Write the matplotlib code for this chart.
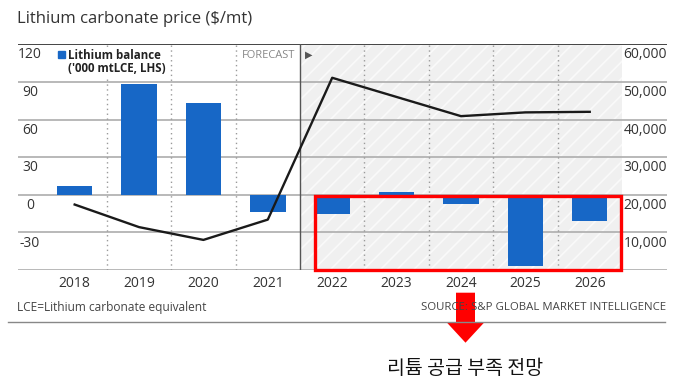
import matplotlib
matplotlib.use("Agg")
import matplotlib.pyplot as plt
import matplotlib.transforms as mtransforms
from matplotlib.patches import Rectangle, FancyArrow
from matplotlib.lines import Line2D

years = ["2018", "2019", "2020", "2021", "2022", "2023", "2024", "2025", "2026"]
balance = [7, 88, 73, -14, -15, 2.5, -7, -57, -21]          # '000 mtLCE, LHS
price = [17400, 11400, 8000, 13400, 51100, 46000, 40900, 41900, 42050]  # $/mt, RHS
left_ticks = [120, 90, 60, 30, 0, -30]
right_ticks = [60000, 50000, 40000, 30000, 20000, 10000]
forecast_start = 4  # index of 2022

plt.rcParams['font.family'] = ['Open Sans', 'DejaVu Sans']
plt.rcParams['hatch.linewidth'] = 1.2

BLUE = "#1767c6"
GRID = "#b3b3b3"

fig = plt.figure(figsize=(6.84, 3.88), dpi=100)
ax = fig.add_axes([18 / 684, 118 / 388, 649 / 684, 225.7 / 388])
x = list(range(len(years)))

ax.set_xlim(-0.88, len(years) - 1 + 1.2)
ax.set_ylim(-60, 120)
for s in ax.spines.values():
    s.set_visible(False)

# forecast shading
ax.axvspan(forecast_start - 0.5, len(years) - 0.5, facecolor="#f0f0f0",
           edgecolor="#fafafa", hatch="//", lw=0, zorder=0)

# horizontal grid
for v in left_ticks[1:] + [-60]:
    ax.axhline(v, color=GRID, lw=1.3, zorder=1)
ax.axhline(120, color="#444444", lw=1.4, zorder=1)

# vertical separators
for i in x[:-1]:
    if i + 1 == forecast_start:
        ax.axvline(i + 0.5, color="#555555", lw=1.0, zorder=1)
    else:
        ax.axvline(i + 0.5, color="#9a9a9a", lw=1.0, ls=(0, (1, 2.5)), zorder=1)

ax.bar(x, balance, width=0.55, color=BLUE, zorder=3)

ax.set_xticks(x, years)
ax.tick_params(axis="x", length=0, pad=4.5, labelsize=10, labelcolor="#333333")
ax.set_yticks([])

off = mtransforms.offset_copy(ax.get_yaxis_transform(), fig=fig, x=0, y=-10.7, units="dots")
for v in left_ticks:
    ax.text(0.0185, v, str(v), transform=off, ha="center", va="center",
            fontsize=10, color="#333333", zorder=5)

# legend + forecast label
ax.add_patch(Rectangle((0.0616, 0.938), 0.011, 0.031, transform=ax.transAxes,
                       color=BLUE, zorder=7, clip_on=False))
ax.text(0.077, 0.978, "Lithium balance\n('000 mtLCE, LHS)", transform=ax.transAxes,
        ha="left", va="top", fontsize=8.3, fontweight="bold", color="#222222",
        linespacing=1.0, zorder=6,
        bbox=dict(facecolor="white", edgecolor="none", pad=1))
ax.text(forecast_start - 0.58, 120, "FORECAST",
        transform=mtransforms.offset_copy(ax.transData, fig=fig, y=-10.7, units="dots"),
        ha="right", va="center", fontsize=8, color="#888888", zorder=6)
ax.text(forecast_start - 0.42, 120, "\u25B6",
        transform=mtransforms.offset_copy(ax.transData, fig=fig, y=-10.7, units="dots"),
        ha="left", va="center", fontsize=7, color="#555555", zorder=6,
        family=["DejaVu Sans"])

# red highlight box
ax.add_patch(Rectangle((forecast_start - 0.27, -60), 4.75, 58.9, fill=False,
                       edgecolor="red", lw=2.4, zorder=10, clip_on=False))

# price line on right axis
ax2 = ax.twinx()
ax2.set_ylim(0, 60000)
for s in ax2.spines.values():
    s.set_visible(False)
ax2.set_yticks([])
ax2.plot(x, price, color="#1a1a1a", lw=1.7, zorder=4)
off2 = mtransforms.offset_copy(ax2.get_yaxis_transform(), fig=fig, x=0, y=-10.7, units="dots")
for v in right_ticks:
    ax2.text(1.0, v, f"{v:,}", transform=off2, ha="right", va="center",
             fontsize=10, color="#333333")

fig.text(17 / 684, 1 - 19 / 388, "Lithium carbonate price ($/mt)", ha="left",
         va="center", fontsize=12, color="#333333")
fig.text(17 / 684, 1 - 308 / 388, "LCE=Lithium carbonate equivalent", ha="left",
         va="center", fontsize=8.6, color="#444444")
fig.text(666 / 684, 1 - 308 / 388, "SOURCE: S&P GLOBAL MARKET INTELLIGENCE", ha="right",
         va="center", fontsize=8.2, color="#444444")
fig.add_artist(Line2D([8 / 684, 665 / 684], [1 - 321.7 / 388] * 2,
                      transform=fig.transFigure, color="#888888", lw=1.0))

fig.add_artist(FancyArrow(4.655, 0.953, 0, -0.5, width=0.19, head_width=0.37,
                          head_length=0.2, length_includes_head=True, color="red",
                          lw=0, transform=fig.dpi_scale_trans))
fig.text(465 / 684, 1 - 368 / 388, "리튬 공급 부족 전망", ha="center", va="center",
         fontsize=14, color="#111111", family=["Noto Sans CJK KR"])

fig.savefig("out.png", dpi=100)
